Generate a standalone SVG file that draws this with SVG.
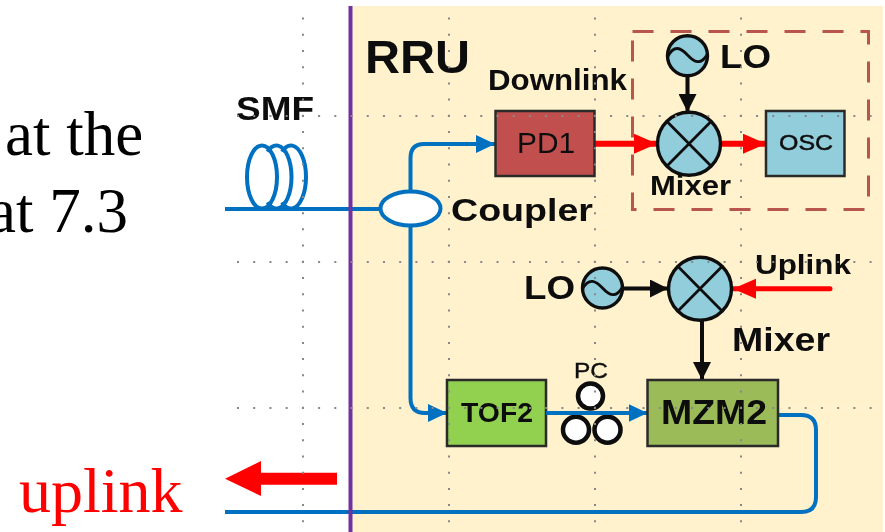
<svg xmlns="http://www.w3.org/2000/svg" width="885" height="532" viewBox="0 0 885 532">
<style>
.serif{font-family:"Liberation Serif","Times New Roman",serif;font-size:63px;fill:#000}
.b{font-family:"Liberation Sans",Arial,sans-serif;font-weight:700;fill:#0a0a0a}
.r{font-family:"Liberation Sans",Arial,sans-serif;fill:#111}
.box{stroke:#2b2b2b;stroke-width:2.5}
.round{fill:#92cddc;stroke:#111;stroke-width:3.4}
.x{stroke:#111;stroke-width:2.8;fill:none}
.fib{fill:none;stroke:#0070c0;stroke-width:4}
.red{stroke:#ff0000;fill:none}
.blk{stroke:#0a0a0a;stroke-width:4;fill:none}
.pc{fill:#fff;stroke:#0a0a0a;stroke-width:4.5}
.dot{stroke:#888;stroke-width:2;stroke-dasharray:2 14.22;fill:none}
</style>
<defs>
<filter id="soft" x="0" y="0" width="100%" height="100%" filterUnits="userSpaceOnUse"><feGaussianBlur stdDeviation="0.5"/></filter>
<marker id="ab" markerUnits="userSpaceOnUse" markerWidth="20" markerHeight="18" refX="19" refY="9" orient="auto"><path d="M0 0L19 9L0 18Z" fill="#0070c0"/></marker>
<marker id="ak" markerUnits="userSpaceOnUse" markerWidth="18" markerHeight="18" refX="18" refY="9" orient="auto"><path d="M0 0L18 9L0 18Z" fill="#0a0a0a"/></marker>
<marker id="ar" markerUnits="userSpaceOnUse" markerWidth="23" markerHeight="20" refX="23" refY="10" orient="auto"><path d="M0 0L23 10L0 20Z" fill="#ff0000"/></marker>
</defs>
<rect id="rru-area" x="352" y="6" width="531" height="526" fill="#fff2cc"/>
<text class="serif" x="5" y="155">at the</text>
<text class="serif" x="-12" y="232">at 7.3</text>
<text class="serif" x="19" y="512" style="fill:#ff0000;font-size:64px">uplink</text>
<g filter="url(#soft)">
<g id="connectors">
<path class="fib" d="M225 209H380"/>
<path class="fib" d="M410.500 192V158Q410.500 144 424 144H495" marker-end="url(#ab)"/>
<path class="fib" d="M410.500 226V398Q410.500 413 425 413H447" marker-end="url(#ab)"/>
<path class="fib" d="M778 415H801Q816 415 816 430V497Q816 512 801 512H225"/>
<path class="red" stroke-width="6" d="M595 143.700H657" marker-end="url(#ar)"/>
<path class="red" stroke-width="6" d="M721 143.700H766" marker-end="url(#ar)"/>
<path class="red" stroke-width="5" stroke-linecap="round" d="M830 288.700H733" marker-end="url(#ar)"/>
<path class="blk" d="M687.500 76V112" marker-end="url(#ak)"/>
<path class="blk" d="M622 288.500H668" marker-end="url(#ak)"/>
<path class="blk" d="M702 318V380" marker-end="url(#ak)"/>
<path d="M337 472.700H261V461L225 478.700L261 496V484.700H337Z" fill="#ff0000"/>
</g>
<path id="boundary" d="M350.500 6V532" stroke="#7030a0" stroke-width="4" fill="none"/>
<rect id="dashed-box" x="632.500" y="31.500" width="236" height="178" fill="none" stroke="#b85450" stroke-width="3" stroke-dasharray="21 17"/>
<g id="smf">
<ellipse class="fib" cx="262" cy="177" rx="15" ry="31.500"/>
<path class="fib" d="M267.500 151.800A15 31.500 0 1 1 267.500 202.200"/>
<path class="fib" d="M282 151.800A15 31.500 0 1 1 282 202.200"/>
<text class="b" x="236" y="120" font-size="33" textLength="78" lengthAdjust="spacingAndGlyphs">SMF</text>
</g>
<g id="coupler">
<ellipse cx="410.500" cy="208.500" rx="30" ry="17" fill="#fff" stroke="#0070c0" stroke-width="4"/>
<text class="b" x="451" y="221" font-size="32" textLength="142" lengthAdjust="spacingAndGlyphs">Coupler</text>
</g>
<g id="pd1">
<rect class="box" x="495.500" y="111" width="99" height="65" fill="#c0504d"/>
<text class="r" x="517" y="153" font-size="29" textLength="58" lengthAdjust="spacingAndGlyphs">PD1</text>
</g>
<g id="mixer1">
<circle class="round" cx="689" cy="143.700" r="31.500"/>
<path class="x" d="M667 121.500L711 166M711 121.500L667 166"/>
<text class="b" x="650" y="195" font-size="28" textLength="81" lengthAdjust="spacingAndGlyphs">Mixer</text>
</g>
<g id="lo1">
<circle class="round" cx="687.500" cy="55.700" r="20"/>
<path class="x" d="M667.500 57C674 44 681 48 687.500 55C694 62 701 66 707.500 54"/>
<text class="b" x="720" y="68" font-size="34" textLength="51" lengthAdjust="spacingAndGlyphs">LO</text>
</g>
<g id="osc">
<rect class="box" x="766" y="111" width="78.500" height="65" fill="#92cddc"/>
<text class="r" x="779" y="150" font-size="22" textLength="54" lengthAdjust="spacingAndGlyphs" stroke="#111" stroke-width=".5">OSC</text>
</g>
<g id="mixer2">
<circle class="round" cx="700" cy="288.700" r="31.500"/>
<path class="x" d="M678 266.500L722 311M722 266.500L678 311"/>
<text class="b" x="732" y="351" font-size="33" textLength="98" lengthAdjust="spacingAndGlyphs">Mixer</text>
</g>
<g id="lo2">
<circle class="round" cx="602.500" cy="288" r="20"/>
<path class="x" d="M582.500 289C589 277 596 281 602.500 288C609 295 616 299 622.500 287"/>
<text class="b" x="524" y="299" font-size="34" textLength="51" lengthAdjust="spacingAndGlyphs">LO</text>
</g>
<g id="uplink-label">
<text class="b" x="755" y="274" font-size="27" textLength="96" lengthAdjust="spacingAndGlyphs">Uplink</text>
</g>
<g id="tof2">
<rect class="box" x="447" y="380" width="99" height="66" fill="#92d050"/>
<text class="b" x="461" y="422" font-size="27" textLength="72" lengthAdjust="spacingAndGlyphs">TOF2</text>
</g>
<g id="pc">
<circle class="pc" cx="590.500" cy="396" r="12.500"/>
<circle class="pc" cx="576" cy="429.700" r="13"/>
<circle class="pc" cx="607.500" cy="429.700" r="13"/>
<text class="r" x="574" y="378" font-size="22" textLength="34" lengthAdjust="spacingAndGlyphs" stroke="#111" stroke-width=".4">PC</text>
<path class="fib" d="M546 413H647.500" marker-end="url(#ab)"/>
</g>
<g id="mzm2">
<rect class="box" x="647.500" y="380" width="130.500" height="66" fill="#9bbb59"/>
<text class="b" x="661" y="424" font-size="35" textLength="106" lengthAdjust="spacingAndGlyphs">MZM2</text>
</g>
<g id="rru-label">
<text class="b" x="365" y="73" font-size="46" textLength="105" lengthAdjust="spacingAndGlyphs">RRU</text>
</g>
<g id="downlink-label">
<text class="b" x="488" y="90" font-size="29" textLength="139" lengthAdjust="spacingAndGlyphs">Downlink</text>
</g>
<g id="grid">
<path class="dot" d="M303 17.500V524M449 17.500V524M595 17.500V524M741 17.500V524"/>
<path class="dot" d="M237 116H884M237 262H884M237 408H884"/>
</g>
</g>
</svg>
